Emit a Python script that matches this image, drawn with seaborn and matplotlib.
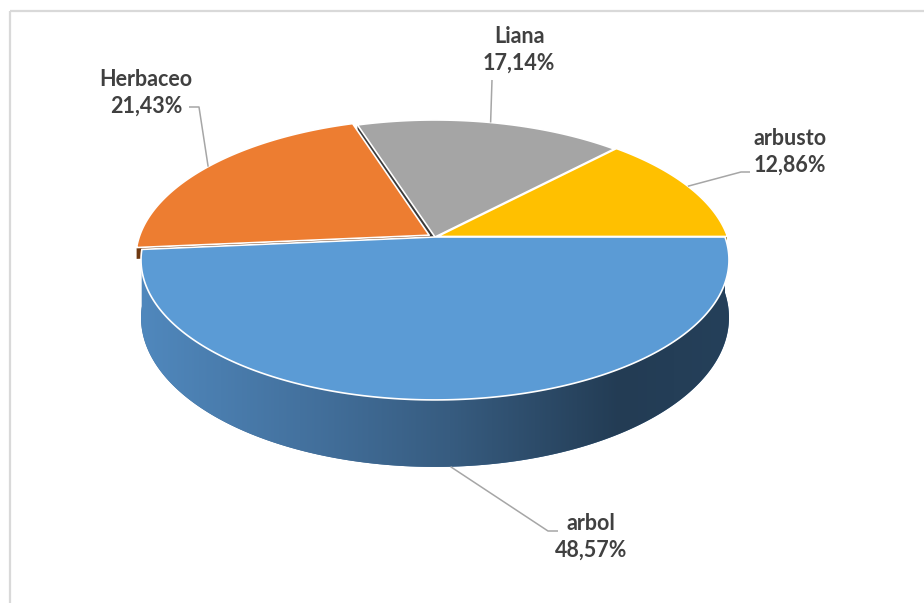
import numpy as np
import matplotlib
matplotlib.use("Agg")
import matplotlib.pyplot as plt
from matplotlib.patches import Polygon, Rectangle
from matplotlib.colors import to_rgb
import seaborn as sns

# Data: growth forms and their share (%)
categories = ["arbusto", "Liana", "Herbaceo", "arbol"]
values = [12.86, 17.14, 21.43, 48.57]
colors = ["#FFC000", "#A5A5A5", "#ED7D31", "#5B9BD5"]
side_colors = ["#8C6A00", "#3A3A3A", "#6E3810", "#3C6A98"]
explode = [0.010, 0.0, 0.024, 0.0]

sns.set_theme(style="white")
plt.rcParams["font.family"] = ["Lato", "DejaVu Sans"]

W, H = 924, 603
fig = plt.figure(figsize=(W / 100, H / 100), dpi=100)
ax = fig.add_axes([0, 0, 1, 1])
ax.set_xlim(0, W)
ax.set_ylim(H, 0)
ax.axis("off")

# chart-area frame
ax.add_patch(Rectangle((9.5, 10.5), W + 20, H + 20, fill=False,
                       edgecolor="#D9D9D9", lw=1.6, zorder=0))

# perspective disc geometry (pixel space)
CX, CY = 435.0, 237.0
R, RY = 290.0, 136.2
K = 0.164          # perspective foreshortening
D = 56.0           # thickness of the disc
CUT = 0.2          # visible depth of the radial cut faces


def rim(a0, a1, z=0.0, ox=0.0, oy=0.0, n=200):
    t = np.radians(np.linspace(a0, a1, n))
    X = np.cos(t) + ox
    Y = np.sin(t) + oy
    w = 1.0 + K * Y
    return np.column_stack([CX + R * X / w, CY - RY * Y / w + D * z / w])


def center(z=0.0, ox=0.0, oy=0.0):
    w = 1.0 + K * oy
    return np.array([[CX + R * ox / w, CY - RY * oy / w + D * z / w]])


# slice angles, counter-clockwise from the right-hand side
total = float(sum(values))
bounds = np.concatenate([[0.0], np.cumsum(values) / total * 360.0])
slices = []
for i in range(len(values)):
    a0, a1 = bounds[i], bounds[i + 1]
    mid = np.radians((a0 + a1) / 2)
    ox, oy = explode[i] * np.cos(mid), explode[i] * np.sin(mid)
    slices.append((i, a0, a1, ox, oy))

# side gradient of the large front slice
grad_x = np.linspace(140, 730, 300)
stops_x = [140, 300, 450, 620, 730]
stops_c = [to_rgb(c) for c in ["#5088BD", "#44729F", "#375C80", "#233C54", "#25405A"]]
grad = np.zeros((1, len(grad_x), 3))
for ch in range(3):
    grad[0, :, ch] = np.interp(grad_x, stops_x, [c[ch] for c in stops_c])

# painter's order: far slices first
draw_order = [1, 0, 2, 3]
for i in draw_order:
    _, a0, a1, ox, oy = slices[i]
    z = 2 + draw_order.index(i) * 3
    # visible radial cut faces
    for ang, vis in ((a0, np.cos(np.radians(a0)) > 0), (a1, np.cos(np.radians(a1)) < 0)):
        if vis:
            depth = 1.0 if categories[i] == "Liana" else CUT
            r_top = rim(ang, ang, 0, ox, oy, 1)
            r_bot = rim(ang, ang, depth, ox, oy, 1)
            quad = np.vstack([center(0, ox, oy), r_top, r_bot, center(depth, ox, oy)])
            ax.add_patch(Polygon(quad, closed=True, facecolor=side_colors[i],
                                 edgecolor="none", zorder=z))
    # visible outer wall of the front slice
    if categories[i] == "arbol":
        lo, hi = max(a0, 180.0), min(a1, 360.0)
        top = rim(lo, hi, 0, ox, oy)
        bot = rim(hi, lo, 1, ox, oy)
        wall = Polygon(np.vstack([top, bot]), closed=True, facecolor=side_colors[i],
                       edgecolor="none", zorder=z + 1)
        ax.add_patch(wall)
        im = ax.imshow(grad, extent=(grad_x[0], grad_x[-1], 480, 230),
                       aspect="auto", zorder=z + 1.1, interpolation="bilinear")
        im.set_clip_path(wall)
    # top face
    face = np.vstack([center(0, ox, oy), rim(a0, a1, 0, ox, oy)])
    ax.add_patch(Polygon(face, closed=True, facecolor=colors[i],
                         edgecolor="white", lw=1.2, joinstyle="round", zorder=z + 2))

# data labels with leader lines
label_pos = {"arbusto": (790, 152), "Liana": (519, 50),
             "Herbaceo": (146, 93), "arbol": (591, 537)}
leader_elbow = {"arbusto": [(750, 172), (741, 172)],
                "Liana": [(492, 80)],
                "Herbaceo": [(189, 107), (199, 107)],
                "arbol": [(558, 531), (548, 531)]}
text_col = "#404040"
line_col = "#A6A6A6"
for i, (_, a0, a1, ox, oy) in enumerate(slices):
    mid = (a0 + a1) / 2
    zz = 1.0 if np.sin(np.radians(mid)) < 0 else 0.0
    anchor = tuple(rim(mid, mid, zz, ox, oy, 1)[0])
    pts = leader_elbow[categories[i]] + [anchor]
    xs, ys = zip(*pts)
    ax.plot(xs, ys, color=line_col, lw=1.1, zorder=30, solid_capstyle="butt")
    pct = f"{values[i]:.2f}".replace(".", ",") + "%"
    tx, ty = label_pos[categories[i]]
    ax.text(tx, ty, f"{categories[i]}\n{pct}", ha="center", va="center",
            fontsize=15.5, fontweight="bold", color=text_col,
            linespacing=1.35, zorder=31)

fig.savefig("out.png", dpi=100, facecolor="white")
